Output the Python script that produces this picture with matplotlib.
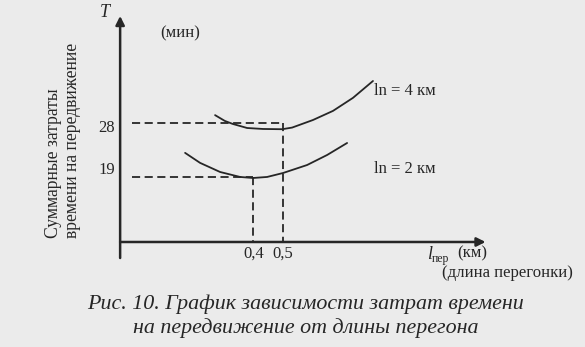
import numpy as np
import matplotlib
matplotlib.use("Agg")
import matplotlib.pyplot as plt

# curve for ln = 4 km
x_ln4 = [0.270, 0.303, 0.330, 0.379, 0.433, 0.498, 0.532, 0.603, 0.671, 0.739, 0.807]
t_ln4 = [29.25, 28.30, 27.80, 27.13, 26.97, 26.93, 27.20, 28.45, 29.95, 32.10, 34.88]

# curve for ln = 2 km
x_ln2 = [0.168, 0.219, 0.287, 0.355, 0.399, 0.447, 0.501, 0.583, 0.651, 0.719]
t_ln2 = [23.03, 21.38, 19.88, 19.06, 18.89, 19.06, 19.71, 21.03, 22.68, 24.66]

# optimum points (length, time)
opt_x = [0.5, 0.4]
opt_t = [28, 19]
opt_x_labels = ["0,5", "0,4"]
opt_t_labels = ["28", "19"]

ink = "#262626"
paper = "#ebebeb"
serif = "Liberation Serif"

fig = plt.figure(figsize=(5.85, 3.47), dpi=100, facecolor=paper)
ax = fig.add_axes([0, 0, 1, 1])
ax.set_facecolor(paper)
ax.set_xlim(-0.4616, 1.5282)
ax.set_ylim(-8.97, 48.23)
ax.axis("off")

# axes with arrows
x_org, t_org = -0.053, 8.34
ax.annotate("", xy=(1.19, t_org), xytext=(x_org, t_org),
            arrowprops=dict(arrowstyle="-|>", color=ink, lw=1.8, mutation_scale=13,
                            shrinkA=0, shrinkB=0))
ax.annotate("", xy=(x_org, 45.6), xytext=(x_org, 5.7),
            arrowprops=dict(arrowstyle="-|>", color=ink, lw=1.8, mutation_scale=13,
                            shrinkA=0, shrinkB=0))

# curves
ax.plot(x_ln4, t_ln4, color=ink, lw=1.3, solid_capstyle="round", solid_joinstyle="round")
ax.plot(x_ln2, t_ln2, color=ink, lw=1.3, solid_capstyle="round", solid_joinstyle="round")

# dashed guides to the optimum values
for xo, to in zip(opt_x, opt_t):
    ax.plot([-0.013, xo], [to, to], color=ink, lw=1.3, ls=(0, (4.5, 2.5)))
    ax.plot([xo, xo], [to, t_org], color=ink, lw=1.3, ls=(0, (4.5, 2.5)))

for xo, lab in zip(opt_x, opt_x_labels):
    ax.text(xo, t_org - 0.6, lab, ha="center", va="top", fontsize=12,
            family=serif, color=ink)
ax.text(-0.1, opt_t[0] - 0.8, opt_t_labels[0], ha="center", va="center",
        fontsize=12, family=serif, color=ink)
ax.text(-0.1, opt_t[1] + 1.2, opt_t_labels[1], ha="center", va="center",
        fontsize=12, family=serif, color=ink)

# curve labels
ax.text(0.81, 33.2, "ln = 4 км", ha="left", va="center", fontsize=12, family=serif, color=ink)
ax.text(0.81, 20.3, "ln = 2 км", ha="left", va="center", fontsize=12, family=serif, color=ink)

# axis titles
ax.text(-0.105, 46.2, "T", ha="center", va="center", fontsize=13, family=serif,
        style="italic", color=ink)
ax.text(0.15, 42.7, "(мин)", ha="center", va="center", fontsize=12, family=serif, color=ink)
ax.text(-0.248, 9.0, "Суммарные затраты\nвремени на передвижение", rotation=90,
        ha="center", va="bottom", multialignment="left", fontsize=12.7,
        linespacing=1.12, family=serif, color=ink)

ax.text(0.99, t_org - 0.6, "l", ha="left", va="top", fontsize=13, family=serif,
        style="italic", color=ink)
ax.text(1.006, t_org - 1.8, "пер", ha="left", va="top", fontsize=8.5, family=serif, color=ink)
ax.text(1.093, t_org - 0.6, "(км)", ha="left", va="top", fontsize=12, family=serif, color=ink)
ax.text(1.487, t_org - 3.8, "(длина перегонки)", ha="right", va="top", fontsize=12,
        family=serif, color=ink)

# caption
fig.text(0.522, 0.089, "Рис. 10. График зависимости затрат времени\n"
         "на передвижение от длины перегона", ha="center", va="center",
         fontsize=15.8, family=serif, style="italic", color=ink, linespacing=1.3)

fig.savefig("out.png", dpi=100, facecolor=paper)
